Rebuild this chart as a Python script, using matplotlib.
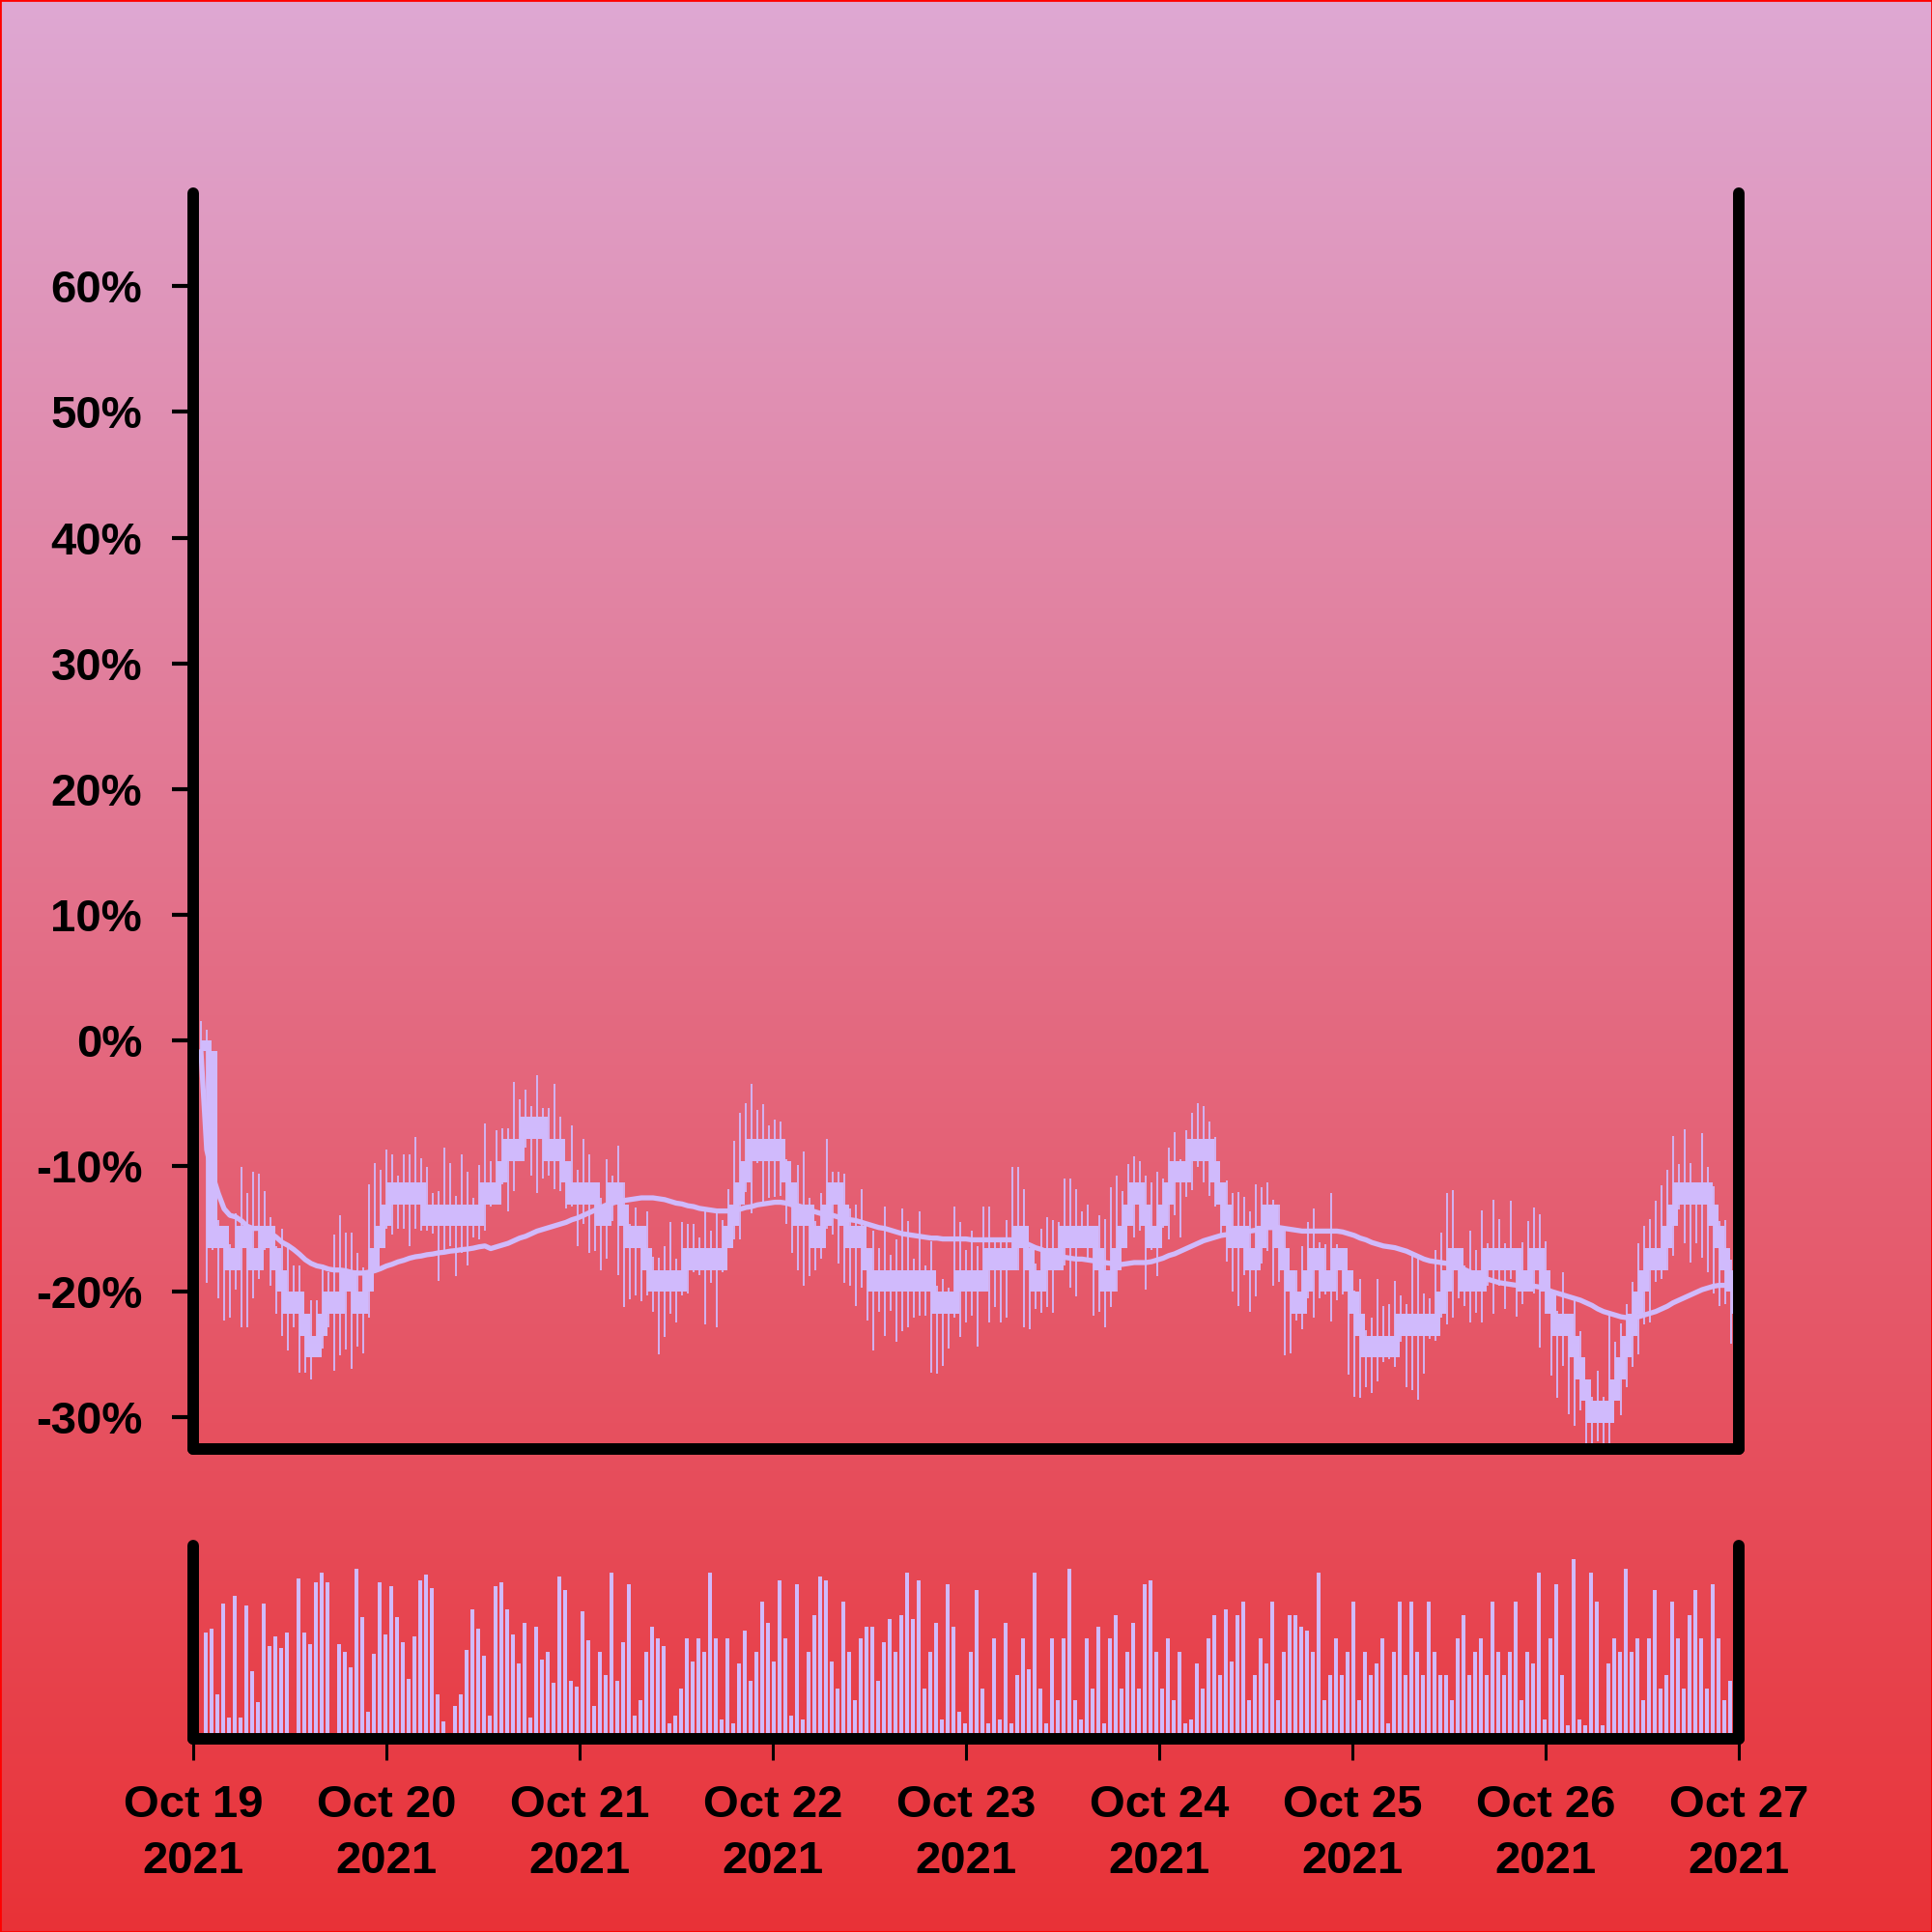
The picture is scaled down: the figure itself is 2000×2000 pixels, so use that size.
import numpy as np
import pandas as pd
import matplotlib
matplotlib.use('Agg')
import matplotlib.pyplot as plt
import matplotlib.dates as mdates

LAV = '#d0bafc'

# prices in ticks, percent change is measured from the first open
first_open = 57.5
closes = [57, 48, 49, 48, 47, 48, 49, 48, 47, 48, 49, 48, 47, 46, 45, 46, 45, 44, 43, 44,
          45, 46, 45, 46, 47, 46, 45, 46, 47, 48, 49, 50, 51, 50, 51, 50, 51, 50, 49, 50,
          49, 50, 49, 50, 49, 50, 49, 50, 51, 50, 51, 52, 53, 52, 53, 54, 53, 54, 53, 52,
          53, 52, 51, 50, 51, 50, 51, 50, 49, 50, 51, 50, 49, 48, 49, 48, 47, 46, 47, 46,
          47, 46, 47, 48, 47, 48, 47, 48, 47, 48, 49, 50, 51, 52, 53, 52, 53, 52, 53, 52,
          51, 50, 49, 50, 49, 48, 49, 50, 51, 50, 49, 48, 49, 48, 47, 46, 47, 46, 47, 46,
          47, 46, 47, 46, 47, 46, 45, 46, 45, 46, 47, 46, 47, 46, 47, 48, 47, 48, 47, 48,
          49, 48, 47, 46, 47, 48, 47, 48, 49, 48, 49, 48, 49, 48, 47, 46, 47, 48, 49, 50,
          51, 50, 49, 48, 49, 50, 51, 52, 51, 52, 53, 52, 53, 52, 51, 50, 49, 48, 49, 48,
          47, 48, 49, 50, 49, 48, 47, 46, 45, 46, 47, 48, 47, 46, 47, 48, 47, 46, 45, 44,
          43, 44, 43, 44, 43, 44, 45, 44, 45, 44, 45, 44, 45, 46, 47, 48, 47, 46, 47, 46,
          47, 48, 47, 48, 47, 48, 47, 46, 47, 48, 47, 46, 45, 44, 45, 44, 43, 42, 41, 40,
          41, 40, 41, 42, 43, 44, 45, 46, 47, 48, 47, 48, 49, 50, 51, 50, 51, 50, 51, 50,
          49, 48, 47, 46, 45]
highs = [58.4, 58.0, 50.2, 49.3, 48.8, 48.2, 49.6, 51.7, 50.5, 51.5, 51.4, 50.6, 49.4, 48.1, 48.9,
         48.2, 47.2, 47.2, 45.0, 45.6, 45.6, 47.25, 46.9, 48.6, 49.5, 48.7, 48.7, 47.8, 47.1, 50.9,
         51.9, 51.6, 52.5, 52.3, 51.3, 52.3, 52.3, 53.1, 52.1, 51.7, 50.5, 50.6, 52.6, 51.9, 50.4,
         52.3, 51.5, 50.3, 51.8, 53.7, 52.0, 53.4, 53.5, 53.5, 55.6, 54.8, 55.25, 54.5, 55.9, 54.4,
         54.4, 55.5, 54.0, 52.0, 53.6, 51.6, 53.0, 52.3, 50.3, 50.3, 52.05, 51.3, 52.7, 51.0, 49.1,
         49.84, 48.07, 49.7, 47.6, 47.55, 48.07, 49.2, 47.5, 49.2, 49.1, 49.1, 48.5, 49.7, 48.8, 49.6,
         49.3, 50.7, 52.9, 54.2, 54.65, 55.5, 54.3, 54.6, 53.6, 53.9, 53.8, 52.05, 50.2, 51.8, 52.4,
         50.3, 49.25, 50.5, 53.0, 51.5, 51.5, 51.4, 49.8, 50.0, 50.7, 47.2, 48.8, 48.0, 49.9, 47.7,
         48.4, 49.8, 49.25, 47.5, 49.7, 47.2, 48.3, 46.3, 46.6, 46.2, 49.9, 49.2, 47.9, 48.8, 48.1,
         49.9, 49.9, 48.3, 48.3, 49.3, 51.7, 51.7, 50.7, 47.2, 47.3, 48.9, 49.4, 49.3, 49.2, 51.2,
         51.2, 50.7, 49.7, 50.0, 48.2, 49.5, 49.35, 50.8, 51.3, 50.6, 51.85, 52.2, 52.0, 51.3, 51.0,
         51.5, 51.2, 52.6, 53.3, 52.05, 53.4, 54.2, 54.65, 54.5, 53.8, 53.1, 50.3, 51.1, 50.5, 50.55,
         50.35, 49.7, 50.9, 50.8, 51.0, 50.2, 50.0, 48.8, 46.75, 46.97, 48.07, 49.2, 49.8, 48.25, 48.2,
         50.5, 48.2, 47.7, 46.15, 46.08, 46.6, 44.24, 44.83, 46.6, 45.34, 45.42, 46.52, 45.83, 45.42, 47.7,
         47.63, 45.93, 45.71, 47.92, 48.73, 50.5, 50.65, 47.04, 47.2, 48.78, 47.92, 49.73, 48.22, 50.23, 49.32,
         48.22, 50.16, 47.48, 48.29, 49.22, 49.84, 49.54, 48.33, 46.01, 45.12, 46.92, 44.24, 45.71, 44.21, 41.15,
         41.2, 42.4, 41.22, 44.9, 43.72, 44.56, 45.42, 46.45, 48.22, 49.03, 49.35, 50.16, 50.87, 51.6, 53.15,
         51.86, 53.45, 51.87, 51.02, 53.25, 51.72, 50.84, 49.25, 49.28, 47.48]
lows = [56.8, 46.4, 47.9, 45.7, 44.7, 44.8, 46.1, 44.4, 44.4, 45.7, 46.6, 47.9, 46.3, 45.0, 44.0,
        43.3, 44.4, 42.3, 42.3, 42.0, 43.05, 43.4, 44.4, 42.4, 43.1, 43.35, 42.5, 43.5, 43.2, 44.8,
        47.0, 48.9, 48.9, 48.6, 48.9, 48.9, 48.1, 48.9, 48.8, 48.8, 48.65, 46.5, 47.8, 48.1, 46.7,
        47.8, 47.2, 48.5, 48.4, 48.8, 49.9, 50.3, 50.9, 49.7, 50.6, 52.0, 52.6, 51.3, 50.5, 51.2,
        51.3, 50.7, 50.6, 49.8, 49.9, 48.1, 49.1, 47.8, 47.85, 46.97, 47.5, 49.25, 46.75, 45.3, 45.64,
        45.86, 45.57, 45.86, 45.1, 43.14, 43.95, 45.0, 44.6, 45.86, 45.93, 46.9, 46.75, 44.5, 46.4, 44.4,
        46.9, 48.9, 48.4, 48.4, 50.55, 49.6, 51.9, 50.1, 50.3, 50.35, 50.4, 49.1, 47.8, 47.0, 46.3,
        46.7, 47.0, 47.5, 48.9, 48.6, 47.3, 46.4, 46.3, 45.35, 46.2, 44.7, 43.3, 45.1, 44.0, 45.15,
        43.7, 44.2, 44.4, 44.8, 44.9, 44.9, 42.3, 42.25, 42.6, 43.4, 44.8, 43.95, 44.6, 44.9, 43.5,
        46.0, 44.6, 45.3, 44.6, 44.8, 47.9, 47.0, 44.4, 44.3, 45.2, 45.05, 45.3, 45.05, 47.0, 47.2,
        46.2, 45.8, 48.0, 47.55, 44.9, 45.1, 44.4, 45.3, 46.0, 48.95, 49.0, 48.5, 48.8, 46.1, 47.9,
        46.7, 48.95, 48.4, 49.5, 48.5, 50.35, 50.65, 51.7, 51.0, 50.4, 49.9, 48.6, 47.4, 46.0, 45.35,
        46.75, 45.1, 45.8, 47.3, 47.85, 46.3, 46.45, 43.1, 43.2, 44.7, 44.3, 45.7, 44.8, 45.7, 45.9,
        44.65, 45.6, 45.9, 42.2, 41.22, 41.15, 41.62, 41.37, 41.91, 42.8, 42.9, 42.55, 43.72, 41.62, 41.51,
        41.07, 42.25, 43.87, 43.77, 44.83, 44.53, 44.83, 45.71, 45.34, 44.61, 45.05, 44.58, 46.3, 44.98, 46.3,
        45.24, 46.6, 44.86, 45.42, 46.3, 45.93, 43.46, 44.98, 42.18, 41.15, 42.62, 40.41, 39.87, 40.56, 39.08,
        39.08, 39.16, 39.08, 39.08, 41.0, 40.34, 41.66, 42.55, 43.13, 44.53, 44.61, 46.45, 46.6, 46.97, 47.63,
        49.76, 48.22, 47.33, 48.22, 47.55, 46.89, 45.93, 45.34, 45.42, 43.65]
volumes = [55, 57, 23, 70, 11, 74, 11, 69, 35, 19, 70, 48, 53, 47, 55, 0, 83, 55, 49, 81,
           86, 81, 1, 49, 45, 37, 88, 63, 14, 44, 81, 54, 79, 63, 50, 31, 53, 82, 85, 78,
           23, 9, 0, 17, 23, 46, 67, 57, 43, 12, 79, 81, 67, 54, 39, 60, 11, 58, 41, 45,
           29, 84, 77, 30, 27, 66, 51, 17,
           45, 33, 86, 30, 50, 80, 12, 20, 45, 58, 52, 48, 8, 12, 26, 52, 40, 52, 45, 86,
           52, 10, 52, 8, 39, 56, 30, 45, 71, 60, 40, 82, 52, 12, 80, 10, 45, 64, 84, 82,
           40, 26, 71, 45, 20, 52, 58, 58, 30, 50, 62, 45, 64, 86, 62, 82, 26, 45, 60, 10,
           80, 58, 14, 8, 45, 77, 26, 8, 52, 10, 60, 8, 33, 52, 36, 86, 26, 8, 52, 20,
           52, 88, 20, 10, 52, 26, 58, 8, 52, 64, 26, 45, 60, 26, 80, 82, 45, 26, 52, 20,
           45, 8, 10, 39, 26, 52, 64, 33, 67, 40, 64, 71, 20, 33, 52, 39, 71, 20, 45, 64,
           64, 58, 56, 45, 86, 20, 33, 52, 33, 45, 71, 20, 45, 33, 39, 52, 8, 45, 71, 33,
           71, 45, 33, 71, 45, 33, 33, 20, 52, 64, 33, 45, 52, 33, 71, 45, 33, 45, 71, 20,
           45, 39, 86, 10, 52, 80, 33, 7, 93, 10, 7, 86, 71, 7, 39, 52, 45, 88, 45, 52,
           20, 52, 77, 26, 33, 71, 52, 26, 64, 77, 52, 26, 80, 52, 20, 30, 85]
opens = [first_open] + closes[:-1]

plt.rcParams['font.family'] = ['Liberation Sans', 'DejaVu Sans']
plt.rcParams['font.weight'] = 'bold'

times = pd.date_range('2021-10-19 00:57:36', periods=len(closes), freq='2592s')
x = mdates.date2num(times.to_pydatetime())


def to_pct(v):
    return np.asarray(v, dtype=float) / first_open * 100 - 100


o, c, h, l = to_pct(opens), to_pct(closes), to_pct(highs), to_pct(lows)
ma = pd.Series(c).rolling(50, min_periods=1).mean()

fig = plt.figure(figsize=(20, 20), dpi=100)
bg = fig.add_axes([0, 0, 1, 1], zorder=-10)
top = np.array([222, 168, 211]) / 255
bot = np.array([233, 50, 55]) / 255
grad = np.linspace(0, 1, 512)[:, None, None] * (bot - top) + top
bg.imshow(grad, aspect='auto', extent=[0, 1, 0, 1])
bg.axis('off')
fig.patches.append(plt.Rectangle((0, 0), 1, 1, transform=fig.transFigure,
                                 fill=False, edgecolor='red', linewidth=2))

ax = fig.add_axes([0.1, 0.25, 0.8, 0.65])
ax2 = fig.add_axes([0.1, 0.1, 0.8, 0.1])

body_w = 0.053
ax.vlines(x, l, h, color=LAV, linewidth=1.3)
ax.bar(x, np.abs(c - o), bottom=np.minimum(o, c), width=body_w, align='edge',
       color=LAV, linewidth=0)
ax.plot(x, ma, color=LAV, linewidth=3.8, solid_capstyle='round')

ax2.bar(x + body_w / 2, volumes, width=0.02, color=LAV, linewidth=0)

day_ticks = pd.date_range('2021-10-19', '2021-10-27', freq='D')
for a in (ax, ax2):
    a.set_facecolor('none')
    a.set_xlim(mdates.date2num(day_ticks[0].to_pydatetime()),
               mdates.date2num(day_ticks[-1].to_pydatetime()))
    a.spines['top'].set_visible(False)
    for s in ('left', 'right', 'bottom'):
        a.spines[s].set_linewidth(8.6)
        a.spines[s].set_color('black')
        a.spines[s].set_capstyle('round')

yt = np.arange(-30, 61, 10)
ax.set_ylim(-32.5, 67.4)
ax.set_yticks(yt)
ax.set_yticklabels([f'{v:.0f}%' for v in yt])
ax.tick_params(axis='y', left=True, right=False, length=16, width=3, pad=22,
               labelsize=34)
ax.tick_params(axis='x', bottom=False, labelbottom=False)

ax2.set_ylim(0, 100)
ax2.set_yticks([])
ax2.set_xticks(mdates.date2num(day_ticks.to_pydatetime()))
ax2.set_xticklabels([d.strftime('%b %d\n%Y') for d in day_ticks], linespacing=1.4)
ax2.tick_params(axis='x', length=16, width=2.2, pad=18, labelsize=34)

fig.savefig('out.png', dpi=100)
